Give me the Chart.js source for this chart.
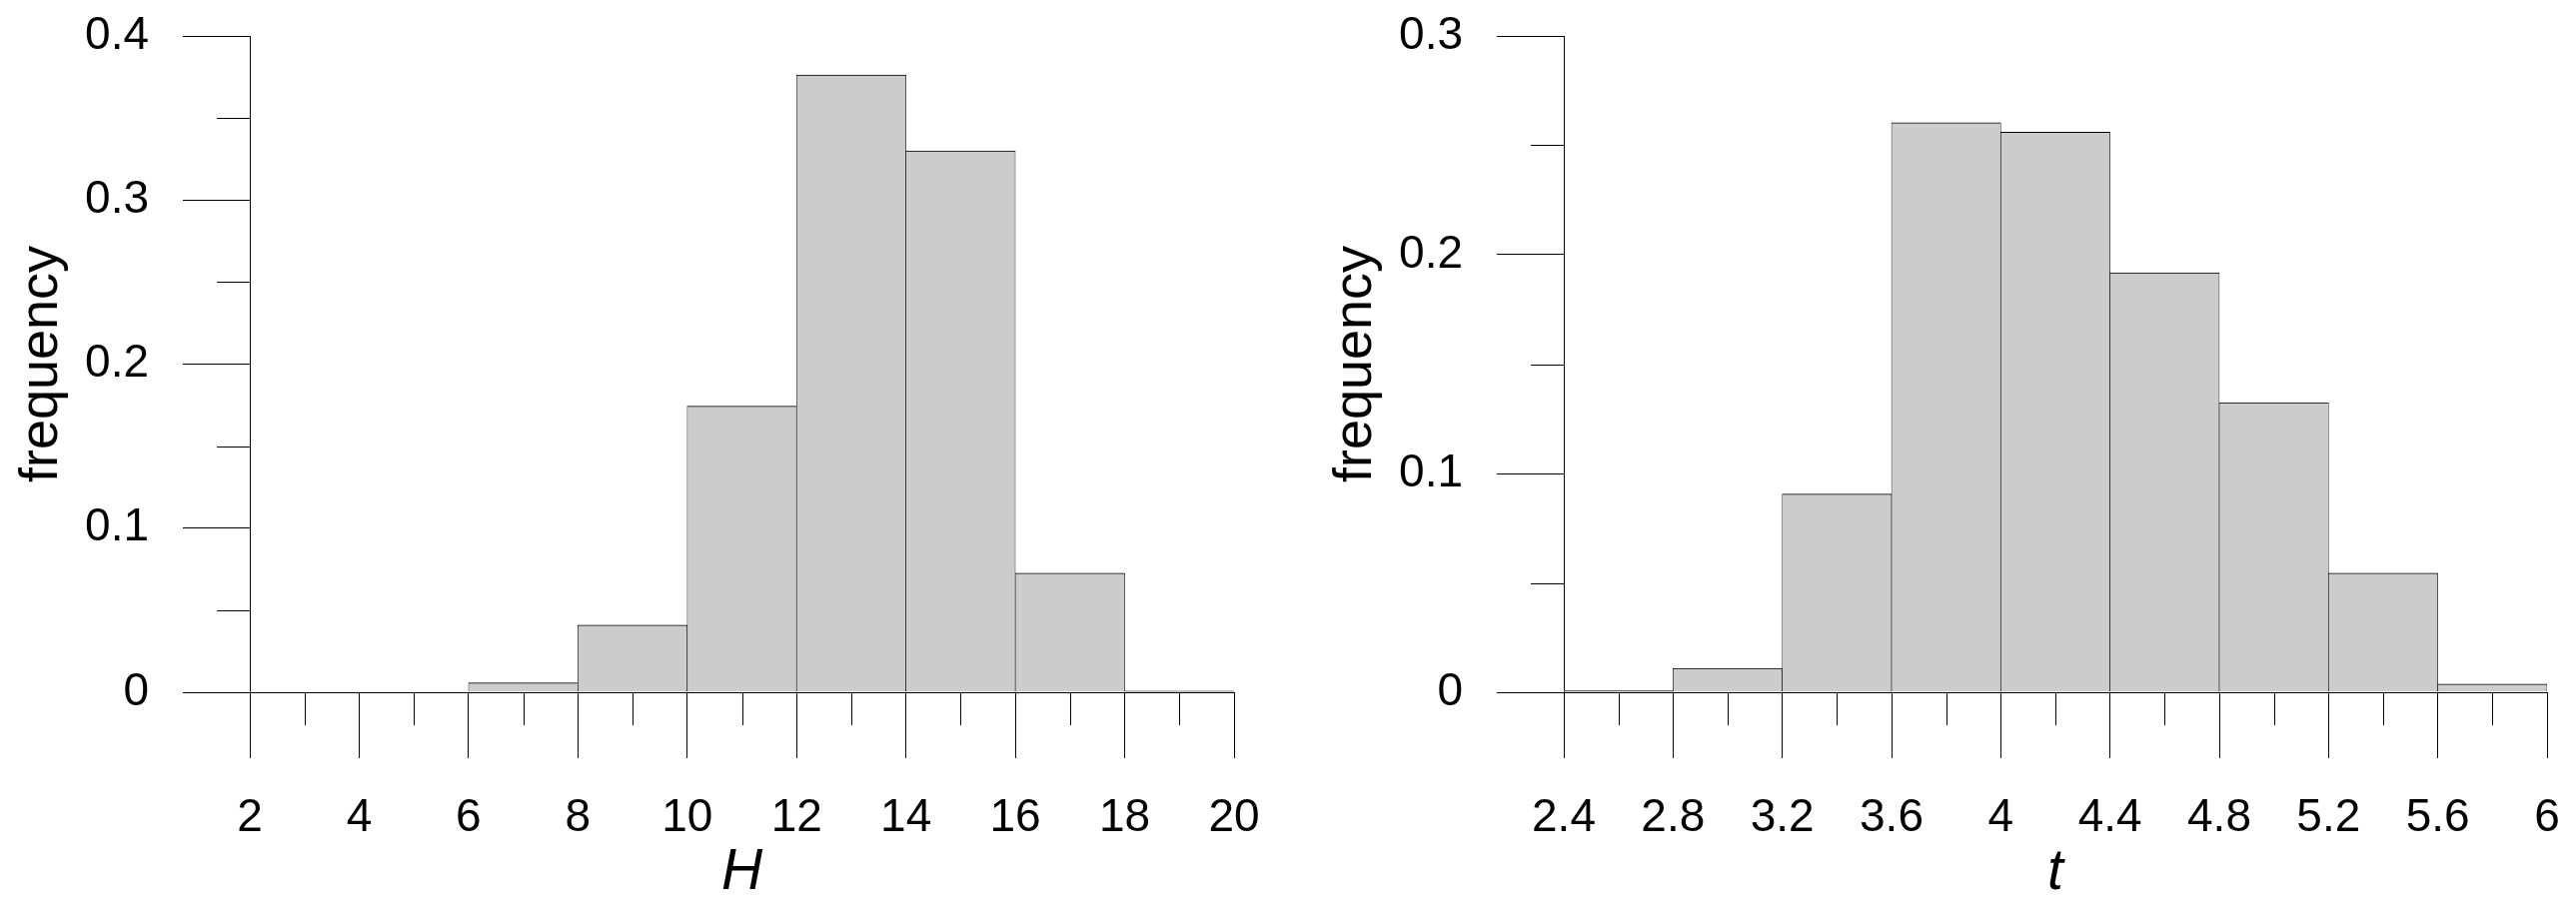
<!DOCTYPE html>
<html>
<head>
<meta charset="utf-8">
<script src="https://cdn.jsdelivr.net/npm/chart.js@4.4.1/dist/chart.umd.min.js"></script>
<style>
  body { margin: 0; background: #fff; }
  .box { position: absolute; top: 0; }
</style>
</head>
<body>
<div class="box" style="left:0px"><canvas id="hChart" width="1300" height="915"></canvas></div>
<div class="box" style="left:1315px"><canvas id="tChart" width="1263" height="915"></canvas></div>
<script>
// -------------------------------
// Data
// -------------------------------
const hEdges = [2, 4, 6, 8, 10, 12, 14, 16, 18, 20];
const hFreq = [0, 0, 0.0057, 0.0409, 0.1744, 0.3762, 0.3300, 0.0725, 0.0007];
const hTicks = [2, 4, 6, 8, 10, 12, 14, 16, 18, 20];
const hTickLabels = ["2", "4", "6", "8", "10", "12", "14", "16", "18", "20"];
const hMinor = [3, 5, 7, 9, 11, 13, 15, 17, 19];
const hYTicks = [0, 0.1, 0.2, 0.3, 0.4];
const hYLabels = ["0", "0.1", "0.2", "0.3", "0.4"];
const hYMinor = [0.05, 0.15, 0.25, 0.35];

const tEdges = [2.4, 2.8, 3.2, 3.6, 4.0, 4.4, 4.8, 5.2, 5.6, 6.0];
const tFreq = [0.0008, 0.0109, 0.0906, 0.2603, 0.2560, 0.1918, 0.1324, 0.0544, 0.0037];
const tTicks = [2.4, 2.8, 3.2, 3.6, 4.0, 4.4, 4.8, 5.2, 5.6, 6.0];
const tTickLabels = ["2.4", "2.8", "3.2", "3.6", "4", "4.4", "4.8", "5.2", "5.6", "6"];
const tMinor = [2.6, 3.0, 3.4, 3.8, 4.2, 4.6, 5.0, 5.4, 5.8];
const tYTicks = [0, 0.1, 0.2, 0.3];
const tYLabels = ["0", "0.1", "0.2", "0.3"];
const tYMinor = [0.05, 0.15, 0.25];

const SANS = '"Liberation Sans", Arial, sans-serif';

// -------------------------------
// Minor tick marks (half length)
// -------------------------------
const minorTicks = {
  id: "minorTicks",
  afterDraw(chart, args, opts) {
    const { ctx, chartArea, scales } = chart;
    ctx.save();
    ctx.strokeStyle = "#000";
    ctx.lineWidth = 1;
    ctx.beginPath();
    opts.x.forEach(v => {
      const px = Math.round(scales.x.getPixelForValue(v)) + 0.5;
      ctx.moveTo(px, chartArea.bottom);
      ctx.lineTo(px, chartArea.bottom + opts.len);
    });
    opts.y.forEach(v => {
      const py = Math.round(scales.y.getPixelForValue(v)) + 0.5;
      ctx.moveTo(chartArea.left - opts.len, py);
      ctx.lineTo(chartArea.left, py);
    });
    ctx.stroke();
    ctx.restore();
  }
};

// -------------------------------
// Histogram builder
// -------------------------------
function makeHist(id, edges, freq, xTicks, xLabels, xMinor, yTicks, yLabels, yMinor, title, padRight) {
  const points = freq.map((f, i) => ({ x: (edges[i] + edges[i + 1]) / 2, y: f }));

  new Chart(document.getElementById(id), {
    type: "bar",
    data: {
      datasets: [{
        data: points,
        backgroundColor: "#cccccc",
        borderColor: "#000",
        borderWidth: c => (c.raw && c.raw.y > 0) ? { top: 1, left: 0.6, right: 0.6, bottom: 0 } : 0,
        borderSkipped: false,
        barPercentage: 1,
        categoryPercentage: 1
      }]
    },
    options: {
      responsive: false,
      animation: false,
      devicePixelRatio: 1,
      layout: { padding: { top: 36, left: 0, right: padRight, bottom: 0 } },
      plugins: {
        legend: { display: false },
        tooltip: { enabled: false },
        minorTicks: { x: xMinor, y: yMinor, len: 33 }
      },
      scales: {
        x: {
          type: "linear",
          min: edges[0],
          max: edges[edges.length - 1],
          offset: false,
          afterBuildTicks: s => { s.ticks = xTicks.map(v => ({ value: v })); },
          afterFit: s => { s.height = 222; s.paddingLeft = 0; s.paddingRight = 0; },
          grid: { display: true, offset: false, drawOnChartArea: false, drawTicks: true, tickLength: 66, tickColor: "#000", tickWidth: 1 },
          border: { display: true, color: "#000", width: 1 },
          ticks: {
            autoSkip: false, maxRotation: 0, padding: 33, color: "#000",
            font: { family: SANS, size: 46 },
            callback: (v, i) => xLabels[i]
          },
          title: {
            display: true, text: title, color: "#000",
            font: { family: SANS, size: 57, style: "italic", lineHeight: 1 },
            padding: { top: 0, bottom: 12 }
          }
        },
        y: {
          min: 0,
          max: yTicks[yTicks.length - 1],
          afterBuildTicks: s => { s.ticks = yTicks.map(v => ({ value: v })); },
          afterFit: s => { s.width = 250; s.paddingTop = 0; s.paddingBottom = 0; },
          grid: { display: true, drawOnChartArea: false, drawTicks: true, tickLength: 67, tickColor: "#000", tickWidth: 1 },
          border: { display: true, color: "#000", width: 1 },
          ticks: {
            autoSkip: false, padding: 34, color: "#000",
            font: { family: SANS, size: 46 },
            callback: (v, i) => yLabels[i]
          },
          title: {
            display: true, text: "frequency", color: "#000",
            font: { family: SANS, size: 54, lineHeight: 1 },
            padding: { top: 15, bottom: 0 }
          }
        }
      }
    },
    plugins: [minorTicks]
  });
}

makeHist("hChart", hEdges, hFreq, hTicks, hTickLabels, hMinor, hYTicks, hYLabels, hYMinor, "H", 65);
makeHist("tChart", tEdges, tFreq, tTicks, tTickLabels, tMinor, tYTicks, tYLabels, tYMinor, "t", 29);
</script>
</body>
</html>
